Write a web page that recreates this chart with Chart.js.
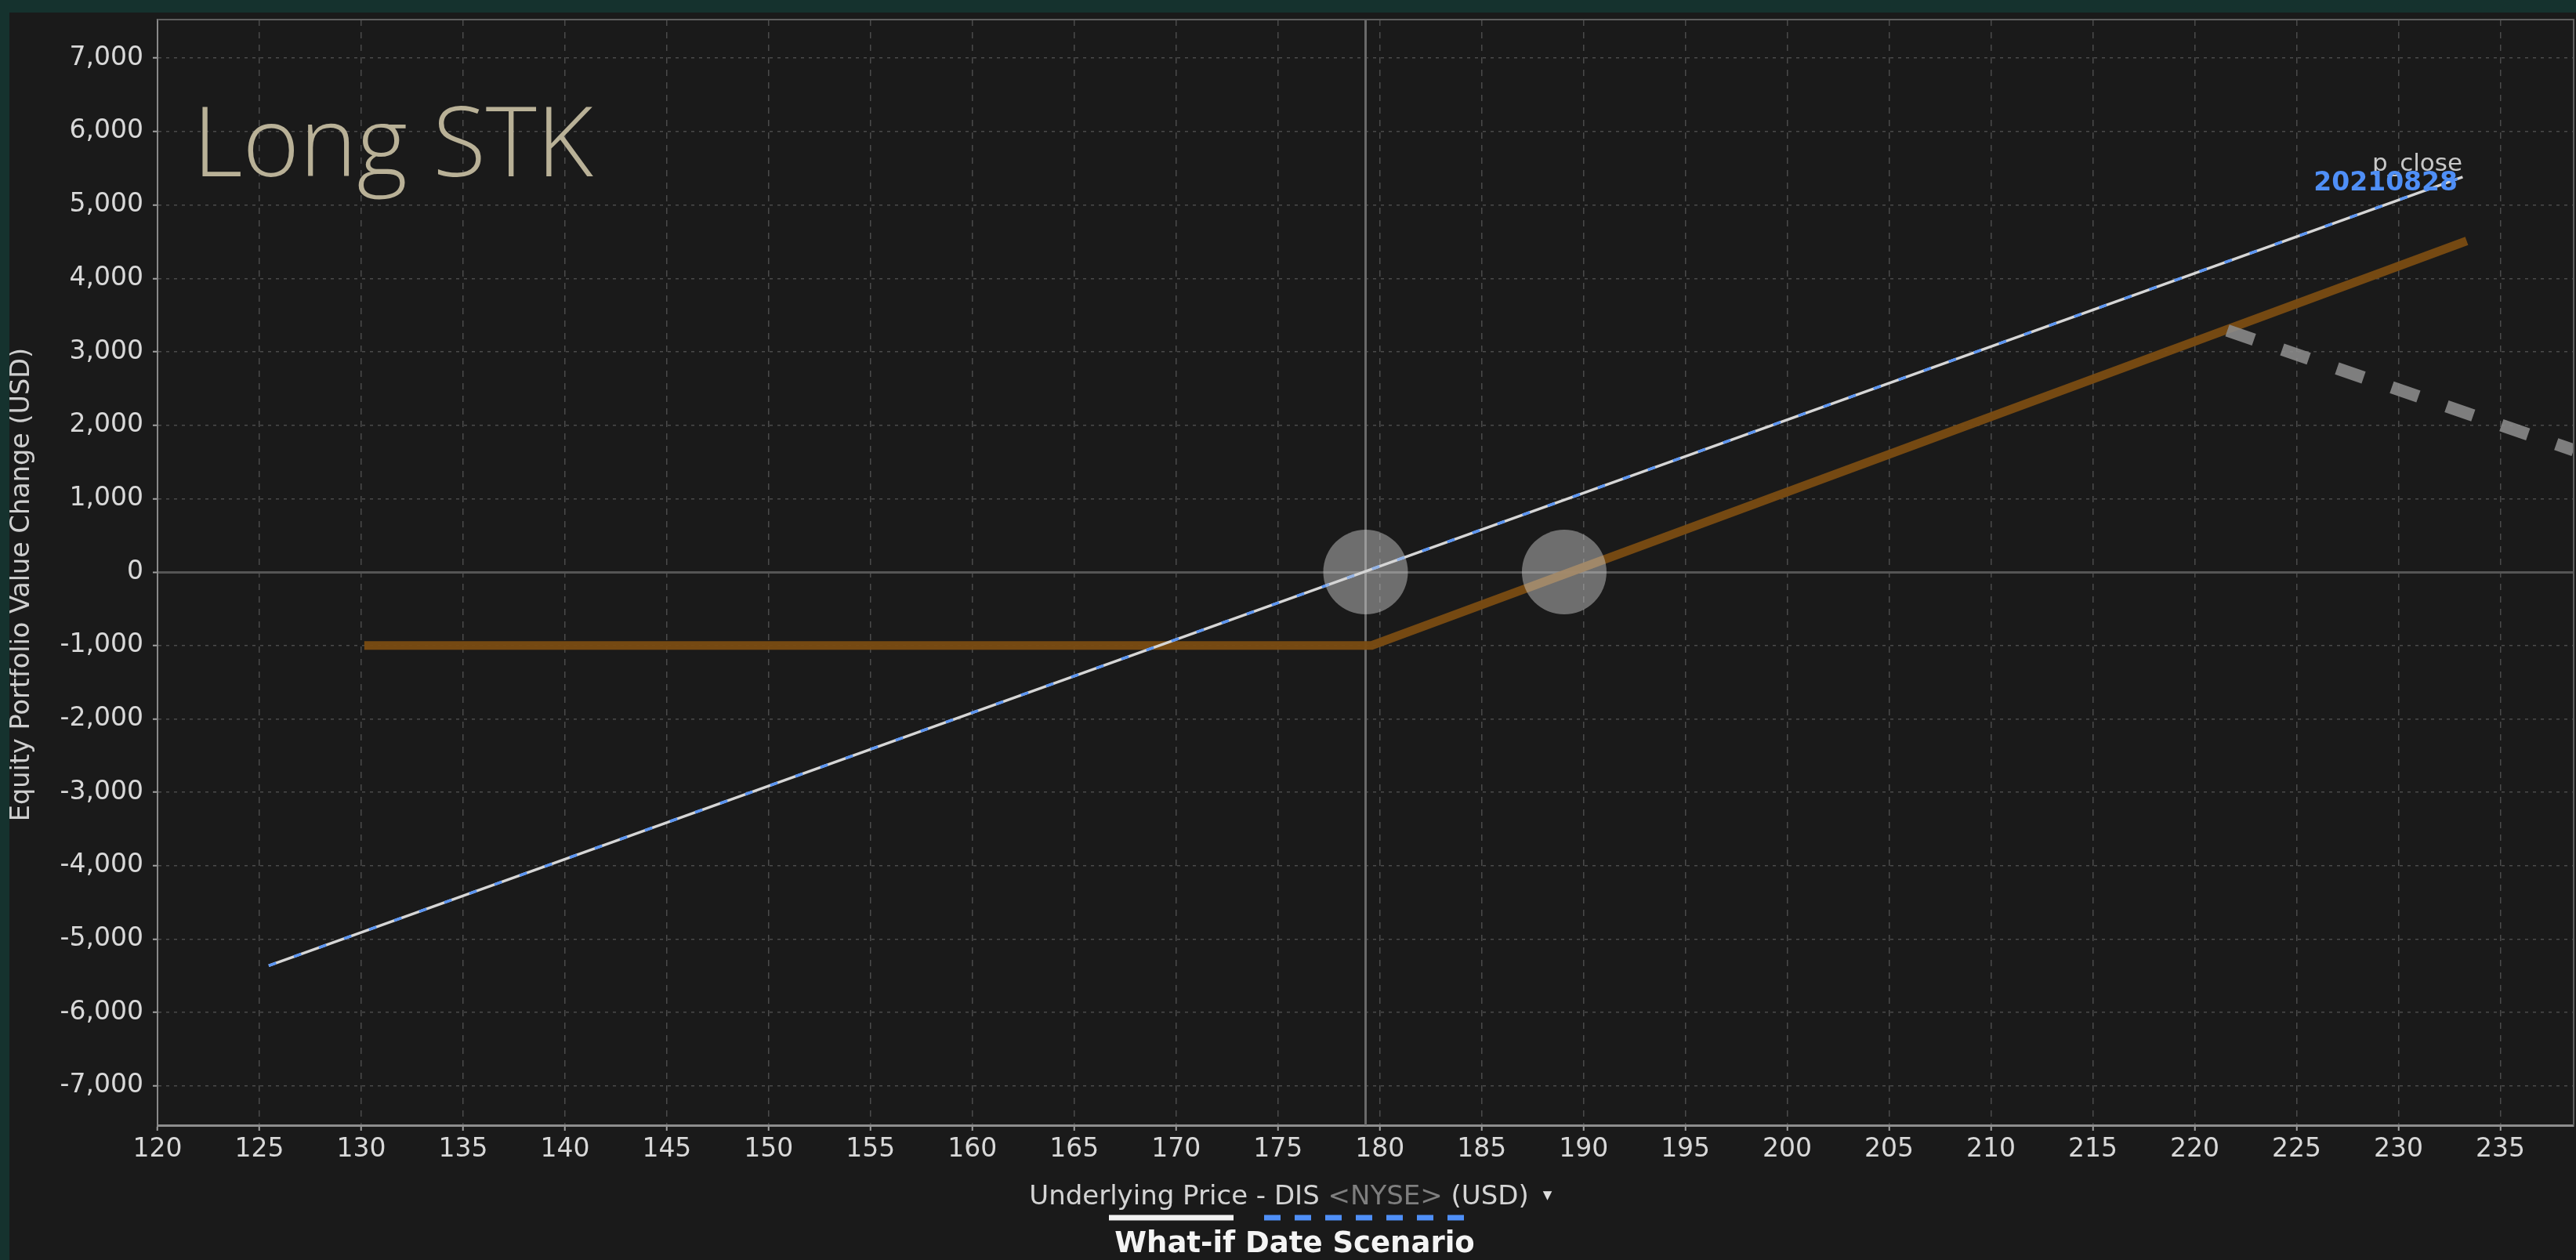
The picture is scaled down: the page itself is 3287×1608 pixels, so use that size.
<!DOCTYPE html>
<html>
<head>
<meta charset="utf-8">
<script src="https://cdn.jsdelivr.net/npm/chart.js@4.4.1/dist/chart.umd.min.js"></script>
<style>
  html, body { margin: 0; padding: 0; background: #15322e; overflow: hidden; }
  #wrap { position: absolute; left: 0; top: 0; width: 3287px; height: 1608px; }
</style>
</head>
<body>
<div id="wrap"><canvas id="c" width="3287" height="1608"></canvas></div>
<script>
// ---- data ----
const xTickValues = [120,125,130,135,140,145,150,155,160,165,170,175,180,185,190,195,200,205,210,215,220,225,230,235];
const yTickValues = [-7000,-6000,-5000,-4000,-3000,-2000,-1000,0,1000,2000,3000,4000,5000,6000,7000];

// current (p_close) P&L of the long stock position
const stockPrice = [125.46, 233.15];
const stockPnl   = [-5361, 5382];

// what-if date scenario (20210828) - identical to the stock line
const whatIfPrice = [125.46, 233.15];
const whatIfPnl   = [-5361, 5382];

// orange comparison line (long call profile)
const callPrice = [130.15, 179.6, 233.35];
const callPnl   = [-1000, -1000, 4510];

// grey dashed line on the right
const greyPrice = [221.6, 238.6];
const greyPnl   = [3290, 1660];

// current underlying price marker and break-even circles
const currentPrice = [179.3];
const breakevenPrice = [179.3, 189.05];
const breakevenPnl   = [0, 0];

const xMin = 120, xMax = 238.6, yMin = -7535, yMax = 7525;

const zip = (xs, ys) => xs.map((x, i) => ({x: x, y: ys[i]}));

const tickFont = { family: "'DejaVu Sans', sans-serif", size: 33 };

const noPad = s => { s.paddingTop = 0; s.paddingBottom = 0; s.paddingLeft = 0; s.paddingRight = 0; };

const frame = {
  id: 'frame',
  beforeDraw(chart) {
    const c = chart.ctx;
    c.save();
    c.fillStyle = '#1a1a1a';
    c.fillRect(0, 0, chart.width, chart.height);
    c.restore();
  },
  afterDraw(chart) {
    const c = chart.ctx;
    const a = chart.chartArea;
    c.save();
    // top / right border of plot
    c.strokeStyle = '#5e5e5e';
    c.lineWidth = 2;
    c.beginPath();
    c.moveTo(a.left, a.top); c.lineTo(a.right, a.top); c.lineTo(a.right, a.bottom);
    c.stroke();

    // big title
    c.fillStyle = '#b9b197';
    c.font = "300 124px 'Open Sans', sans-serif";
    c.textBaseline = 'alphabetic';
    c.textAlign = 'left';
    c.fillText('Long STK', 246, 225);

    // end-of-line labels
    c.font = "31px 'DejaVu Sans', sans-serif";
    c.fillStyle = '#c8c8c8';
    c.textAlign = 'right';
    c.fillText('p_close', 3142, 218);
    c.font = "bold 33px 'DejaVu Sans', sans-serif";
    c.fillStyle = '#4f8ff7';
    c.fillText('20210828', 3136, 243);

    // y axis title
    c.save();
    c.translate(37, 746);
    c.rotate(-Math.PI / 2);
    c.textAlign = 'center';
    c.fillStyle = '#cfcfcf';
    c.font = "33.5px 'DejaVu Sans', sans-serif";
    c.fillText('Equity Portfolio Value Change (USD)', 0, 0);
    c.restore();

    // x axis title with grey exchange part
    c.textAlign = 'left';
    c.font = "34px 'DejaVu Sans', sans-serif";
    const parts = [['Underlying Price - DIS ', '#d4d4d4'], ['<NYSE>', '#7f7f7f'], [' (USD)', '#d4d4d4']];
    let total = 0;
    parts.forEach(p => total += c.measureText(p[0]).width);
    let x = 1632 - total / 2;
    parts.forEach(p => { c.fillStyle = p[1]; c.fillText(p[0], x, 1537); x += c.measureText(p[0]).width; });
    c.fillStyle = '#e0e0e0';
    c.font = "15px 'DejaVu Sans', sans-serif";
    c.fillText('\u25BC', x + 18, 1530);

    // legend samples
    c.lineWidth = 7;
    c.strokeStyle = '#f2f2f2';
    c.beginPath(); c.moveTo(1415, 1554); c.lineTo(1574, 1554); c.stroke();
    c.strokeStyle = '#4f8ff7';
    c.setLineDash([21, 18]);
    c.beginPath(); c.moveTo(1613, 1554); c.lineTo(1870, 1554); c.stroke();
    c.setLineDash([]);

    c.textAlign = 'center';
    c.fillStyle = '#f4f4f4';
    c.font = "bold 37px 'DejaVu Sans', sans-serif";
    c.fillText('What-if Date Scenario', 1652, 1598);

    // outer teal frame
    c.fillStyle = '#15322e';
    c.fillRect(0, 0, chart.width, 16);
    c.fillRect(0, 0, 12, chart.height);
    c.restore();
  }
};

new Chart(document.getElementById('c'), {
  type: 'scatter',
  data: {
    datasets: [
      { label: 'breakeven', data: zip(breakevenPrice, breakevenPnl), order: 0,
        pointRadius: 54, pointHoverRadius: 54, pointBorderWidth: 0,
        backgroundColor: 'rgba(212,212,212,0.45)', borderColor: 'rgba(0,0,0,0)', showLine: false },
      { label: 'grey', data: zip(greyPrice, greyPnl), order: 1, showLine: true,
        borderColor: 'rgba(140,140,140,0.88)', borderWidth: 16, borderDash: [36, 38], borderCapStyle: 'butt',
        pointRadius: 0, tension: 0 },
      { label: '20210828', data: zip(whatIfPrice, whatIfPnl), order: 2, showLine: true,
        borderColor: '#5b95f2', borderWidth: 3.5, borderDash: [10, 24],
        pointRadius: 0, tension: 0 },
      { label: 'p_close', data: zip(stockPrice, stockPnl), order: 3, showLine: true,
        borderColor: '#d6d6d6', borderWidth: 3.5,
        pointRadius: 0, tension: 0 },
      { label: 'call', data: zip(callPrice, callPnl), order: 4, showLine: true,
        borderColor: 'rgba(122,76,18,0.95)', borderWidth: 11, borderJoinStyle: 'miter',
        pointRadius: 0, tension: 0 },
      { label: 'price', data: [{x: currentPrice[0], y: yMin}, {x: currentPrice[0], y: yMax}], order: 5, showLine: true,
        borderColor: '#6a6a6a', borderWidth: 3, pointRadius: 0, tension: 0 }
    ]
  },
  options: {
    responsive: false,
    animation: false,
    devicePixelRatio: 1,
    events: [],
    layout: { autoPadding: false, padding: { top: 25, right: 3, left: 0, bottom: 0 } },
    plugins: { legend: { display: false }, tooltip: { enabled: false } },
    scales: {
      x: {
        type: 'linear', min: xMin, max: xMax,
        afterBuildTicks: s => { s.ticks = xTickValues.map(v => ({ value: v })); },
        afterFit: s => { s.height = 172; noPad(s); },
        ticks: { color: '#d8d8d8', font: tickFont, padding: 5, maxRotation: 0, autoSkip: false,
                 callback: v => String(v) },
        grid: { color: '#4a4a4a', lineWidth: 1.5, tickLength: 7, tickColor: '#a0a0a0', tickWidth: 2 },
        border: { color: '#8e8e8e', width: 3, dash: [8, 8] }
      },
      y: {
        type: 'linear', min: yMin, max: yMax,
        afterBuildTicks: s => { s.ticks = yTickValues.map(v => ({ value: v })); },
        afterFit: s => { s.width = 201; noPad(s); },
        ticks: { color: '#d8d8d8', font: tickFont, padding: 12,
                 callback: v => Number(v).toLocaleString('en-US') },
        grid: {
          color: ctx => (ctx.tick && ctx.tick.value === 0) ? '#555555' : '#4a4a4a',
          lineWidth: ctx => (ctx.tick && ctx.tick.value === 0) ? 3 : 1.5,
          tickLength: 6, tickColor: '#a0a0a0', tickWidth: 2
        },
        border: { color: '#8a8a8a', width: 2,
                  dash: ctx => (ctx.tick && ctx.tick.value === 0) ? [] : [4, 6] }
      }
    }
  },
  plugins: [frame]
});
</script>
</body>
</html>
